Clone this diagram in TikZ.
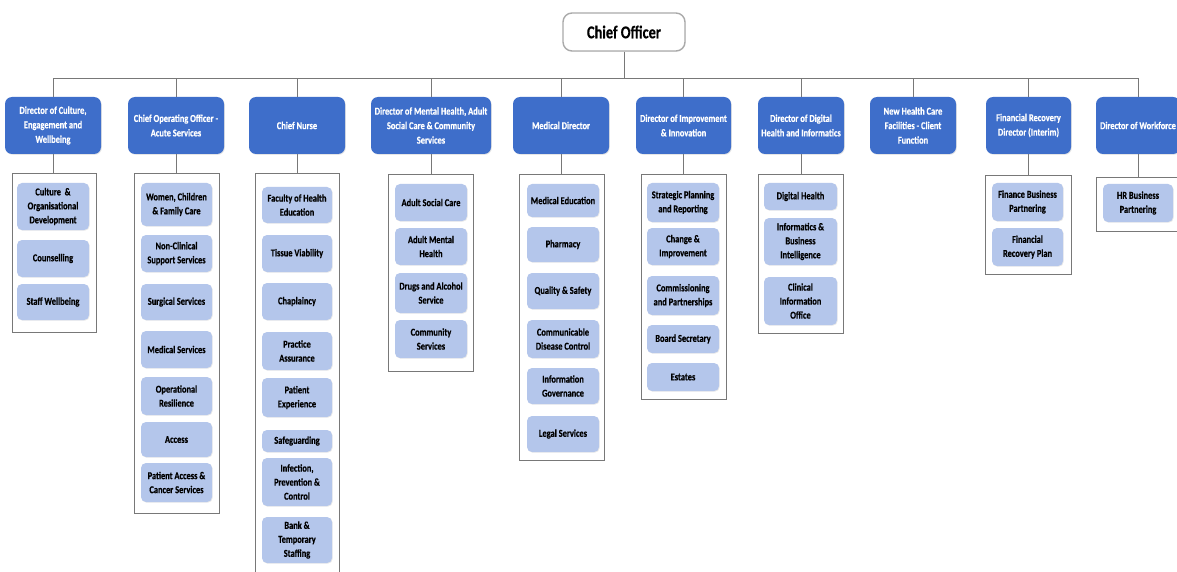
\documentclass[tikz,border=0pt]{standalone}
\usepackage{fontspec}
\newfontfamily\cf[FakeStretch=0.8, UprightFont={* Bold}, BoldFont={* Bold}, FakeBold=0.5]{Carlito}
\usetikzlibrary{shadows}
\definecolor{dirblue}{RGB}{62,110,202}
\definecolor{subblue}{RGB}{180,198,235}
\definecolor{framegray}{RGB}{120,120,120}
\definecolor{chiefgray}{RGB}{170,170,170}
\newcommand\boxat[7]{\node[#1, minimum width={(#4-#2)*1pt}, minimum height={(#5-#3)*1pt}] (#6) at ({(#2+#4)/2},{(#3+#5)/2}) {#7};}
\tikzset{
  chiefbox/.style={draw=chiefgray, line width=1.4pt, fill=white, rounded corners=9pt, inner sep=0pt,
    font=\cf\fontsize{18}{20}\selectfont, drop shadow={opacity=0.15, shadow xshift=0.6pt, shadow yshift=-0.6pt}},
  dirbox/.style={fill=dirblue, rounded corners=7pt, inner sep=0pt, align=center, text=white,
    font=\cf\fontsize{10.5}{14.5}\selectfont, drop shadow={opacity=0.2, shadow xshift=0.8pt, shadow yshift=-0.8pt}},
  subbox/.style={fill=subblue, rounded corners=5pt, inner sep=0pt, align=center, text=black,
    font=\cf\fontsize{10.5}{14}\selectfont, drop shadow={opacity=0.18, shadow xshift=0.7pt, shadow yshift=-0.7pt}},
  groupbox/.style={draw=framegray, line width=0.8pt, fill=white, inner sep=0pt},
  link/.style={draw=framegray, line width=0.8pt},
}
\begin{document}
\begin{tikzpicture}[x=1pt,y=-1pt]
\useasboundingbox (0,0) rectangle (1177,572);
\clip (0,0) rectangle (1177,572);
\fill[white] (0,0) rectangle (1177,572);

% chief
\boxat{chiefbox}{563}{13}{685}{51}{chief}{Chief Officer}
\coordinate (busL) at (53,78);
\coordinate (busR) at (1138,78);
\draw[link] (busL) -- (busR);
\draw[link] (chief.south) -- (chief.south |- busL);

% directors
\boxat{dirbox}{5}{97}{101}{154}{d1}{Director of Culture,\\Engagement and\\Wellbeing}
\boxat{dirbox}{128}{97}{224}{154}{d2}{Chief Operating Officer -\\Acute Services}
\boxat{dirbox}{249}{97}{345}{154}{d3}{Chief Nurse}
\boxat{dirbox}{371}{97}{491}{154}{d4}{Director of Mental Health, Adult\\Social Care \& Community\\Services}
\boxat{dirbox}{513}{97}{609}{154}{d5}{Medical Director}
\boxat{dirbox}{636}{97}{731}{154}{d6}{Director of Improvement\\\& Innovation}
\boxat{dirbox}{758}{97}{844}{154}{d7}{Director of Digital\\Health and Informatics}
\boxat{dirbox}{870}{97}{956}{154}{d8}{New Health Care\\Facilities - Client\\Function}
\boxat{dirbox}{986}{97}{1071}{154}{d9}{Financial Recovery\\Director (Interim)}
\boxat{dirbox}{1096}{97}{1180}{154}{d10}{Director of Workforce}

\foreach \d in {d1,d2,d3,d4,d5,d6,d7,d8,d9,d10}{
  \draw[link] (\d.north) -- (\d.north |- busL);
}

% group frames
\boxat{groupbox}{12}{173}{96}{332}{g1}{}
\boxat{groupbox}{134}{173}{219}{513}{g2}{}
\boxat{groupbox}{255}{173}{339}{590}{g3}{}
\boxat{groupbox}{388}{174}{473}{371}{g4}{}
\boxat{groupbox}{519}{174}{604}{460}{g5}{}
\boxat{groupbox}{641}{174}{726}{399}{g6}{}
\boxat{groupbox}{758}{174}{843}{333}{g7}{}
\boxat{groupbox}{985}{175}{1071}{274}{g9}{}
\boxat{groupbox}{1096}{177}{1190}{231}{g10}{}

\foreach \d/\g in {d1/g1,d2/g2,d3/g3,d4/g4,d5/g5,d6/g6,d7/g7,d9/g9,d10/g10}{
  \draw[link] (\d.south) -- (\d.south |- \g.north);
}

% column 1
\boxat{subbox}{17}{183}{89}{230}{s11}{Culture \ \&\\Organisational\\Development}
\boxat{subbox}{17}{240}{89}{277}{s12}{Counselling}
\boxat{subbox}{17}{284}{89}{320}{s13}{Staff Wellbeing}

% column 2
\boxat{subbox}{141}{183}{212}{226}{s21}{Women, Children\\\& Family Care}
\boxat{subbox}{141}{235}{212}{272}{s22}{Non-Clinical\\Support Services}
\boxat{subbox}{141}{284}{212}{320}{s23}{Surgical Services}
\boxat{subbox}{141}{331}{212}{368}{s24}{Medical Services}
\boxat{subbox}{141}{377}{212}{415}{s25}{Operational\\Resilience}
\boxat{subbox}{141}{422}{212}{457}{s26}{Access}
\boxat{subbox}{141}{463}{212}{502}{s27}{Patient Access \&\\Cancer Services}

% column 3
\boxat{subbox}{262}{187}{332}{223}{s31}{Faculty of Health\\Education}
\boxat{subbox}{262}{235}{332}{272}{s32}{Tissue Viability}
\boxat{subbox}{262}{283}{332}{320}{s33}{Chaplaincy}
\boxat{subbox}{262}{332}{332}{370}{s34}{Practice\\Assurance}
\boxat{subbox}{262}{378}{332}{417}{s35}{Patient\\Experience}
\boxat{subbox}{262}{430}{332}{452}{s36}{Safeguarding}
\boxat{subbox}{262}{458}{332}{506}{s37}{Infection,\\Prevention \&\\Control}
\boxat{subbox}{262}{517}{332}{563}{s38}{Bank \&\\Temporary\\Staffing}

% column 4
\boxat{subbox}{395}{184}{467}{221}{s41}{Adult Social Care}
\boxat{subbox}{395}{228}{467}{265}{s42}{Adult Mental\\Health}
\boxat{subbox}{395}{273}{467}{313}{s43}{Drugs and Alcohol\\Service}
\boxat{subbox}{395}{320}{467}{358}{s44}{Community\\Services}

% column 5
\boxat{subbox}{527}{184}{599}{217}{s51}{Medical Education}
\boxat{subbox}{527}{227}{599}{262}{s52}{Pharmacy}
\boxat{subbox}{527}{273}{599}{309}{s53}{Quality \& Safety}
\boxat{subbox}{527}{320}{599}{358}{s54}{Communicable\\Disease Control}
\boxat{subbox}{527}{368}{599}{404}{s55}{Information\\Governance}
\boxat{subbox}{527}{416}{599}{452}{s56}{Legal Services}

% column 6
\boxat{subbox}{647}{183}{719}{222}{s61}{Strategic Planning\\and Reporting}
\boxat{subbox}{647}{228}{719}{265}{s62}{Change \&\\Improvement}
\boxat{subbox}{647}{276}{719}{315}{s63}{Commissioning\\and Partnerships}
\boxat{subbox}{647}{325}{719}{353}{s64}{Board Secretary}
\boxat{subbox}{647}{363}{719}{391}{s65}{Estates}

% column 7
\boxat{subbox}{764}{183}{837}{210}{s71}{Digital Health}
\boxat{subbox}{764}{218}{837}{265}{s72}{Informatics \&\\Business\\Intelligence}
\boxat{subbox}{764}{277}{837}{325}{s73}{Clinical\\Information\\Office}

% column 9
\boxat{subbox}{992}{183}{1063}{221}{s91}{Finance Business\\Partnering}
\boxat{subbox}{992}{228}{1063}{266}{s92}{Financial\\Recovery Plan}

% column 10
\boxat{subbox}{1103}{184}{1173}{222}{s101}{HR Business\\Partnering}
\end{tikzpicture}
\end{document}
